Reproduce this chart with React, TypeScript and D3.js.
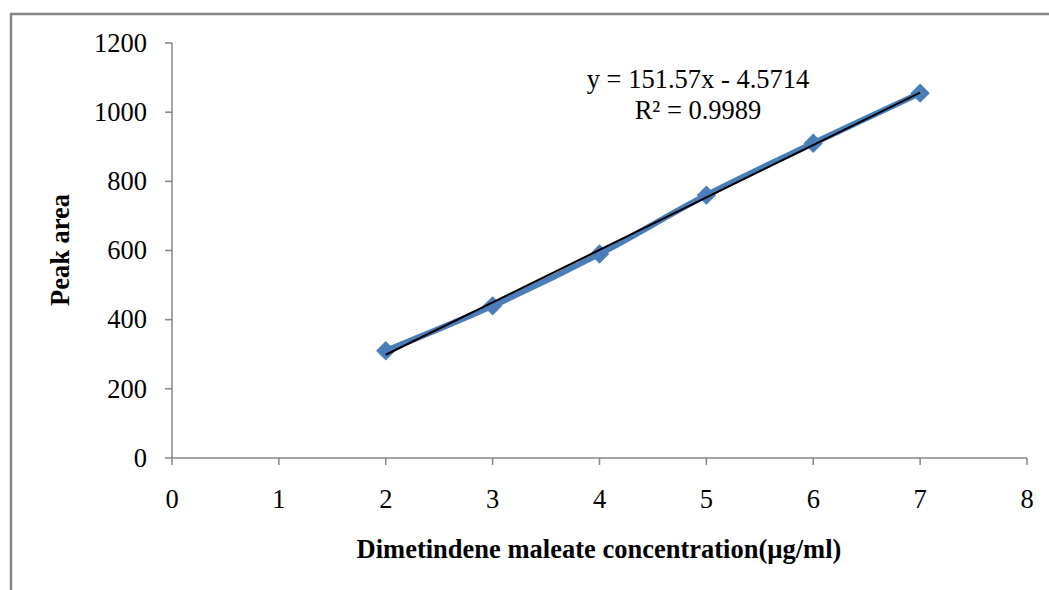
import React from "react";
import * as d3 from "d3";

const concentrations = [2, 3, 4, 5, 6, 7];
const peakAreas = [310, 440, 590, 760, 910, 1055];
const xTicks = [0, 1, 2, 3, 4, 5, 6, 7, 8];
const yTicks = [0, 200, 400, 600, 800, 1000, 1200];
const slope = 151.57;
const intercept = -4.5714;
const equationText = "y = 151.57x - 4.5714";
const r2Text = "R² = 0.9989";
const xTitle = "Dimetindene maleate concentration(µg/ml)";
const yTitle = "Peak area";

export default function App() {
  const W = 1049, H = 590;
  const x = d3.scaleLinear().domain([0, 8]).range([172, 1027]);
  const y = d3.scaleLinear().domain([0, 1200]).range([458, 43]);
  const pts = concentrations.map((c, i) => [x(c), y(peakAreas[i])] as [number, number]);
  const smooth = d3.line().curve(d3.curveCatmullRom.alpha(0.5))(pts) || "";
  const tx0 = concentrations[0], tx1 = concentrations[concentrations.length - 1];
  const axisColor = "#868686";
  const font = "'Liberation Serif', 'Times New Roman', serif";
  const diamond = d3.symbol().type(d3.symbolDiamond2).size(240)() || "";
  return (
    <svg width={W} height={H} style={{ position: "absolute", left: 0, top: 0, background: "#fff" }} fontFamily={font}>
      <rect x={0} y={0} width={W} height={H} fill="#fff" />
      <path d={`M11,${H} V14 H${W}`} fill="none" stroke={axisColor} strokeWidth={2.5} />
      {/* axes */}
      <line x1={x(0)} x2={x(8)} y1={y(0)} y2={y(0)} stroke={axisColor} strokeWidth={1.5} />
      <line x1={x(0)} x2={x(0)} y1={y(0)} y2={y(1200)} stroke={axisColor} strokeWidth={1.5} />
      {yTicks.map((t) => (
        <g key={"y" + t}>
          <line x1={x(0) - 7} x2={x(0)} y1={y(t)} y2={y(t)} stroke={axisColor} strokeWidth={1.5} />
          <text x={147} y={y(t)} dy="0.33em" textAnchor="end" fontSize={26.5} fill="#000">{t}</text>
        </g>
      ))}
      {xTicks.map((t) => (
        <g key={"x" + t}>
          <line x1={x(t)} x2={x(t)} y1={y(0)} y2={y(0) + 7} stroke={axisColor} strokeWidth={1.5} />
          <text x={x(t)} y={499} dy="0.33em" textAnchor="middle" fontSize={26.5} fill="#000">{t}</text>
        </g>
      ))}
      <text x={599} y={549} dy="0.33em" textAnchor="middle" fontSize={26.5} fontWeight="bold" fill="#000">{xTitle}</text>
      <text transform={`translate(60,250) rotate(-90)`} dy="0.33em" textAnchor="middle" fontSize={26.5} fontWeight="bold" fill="#000">{yTitle}</text>
      {/* series */}
      <path d={smooth} fill="none" stroke="#4a7ebb" strokeWidth={6} strokeLinejoin="round" />
      {pts.map((p, i) => (
        <path key={i} d={diamond} transform={`translate(${p[0]},${p[1]})`} fill="#4a7ebb" />
      ))}
      {/* trendline */}
      <line x1={x(tx0)} y1={y(slope * tx0 + intercept)} x2={x(tx1)} y2={y(slope * tx1 + intercept)} stroke="#000" strokeWidth={2} />
      <text x={698} y={79} dy="0.33em" textAnchor="middle" fontSize={26.5} fill="#000">{equationText}</text>
      <text x={698} y={110} dy="0.33em" textAnchor="middle" fontSize={26.5} fill="#000">{r2Text}</text>
    </svg>
  );
}
